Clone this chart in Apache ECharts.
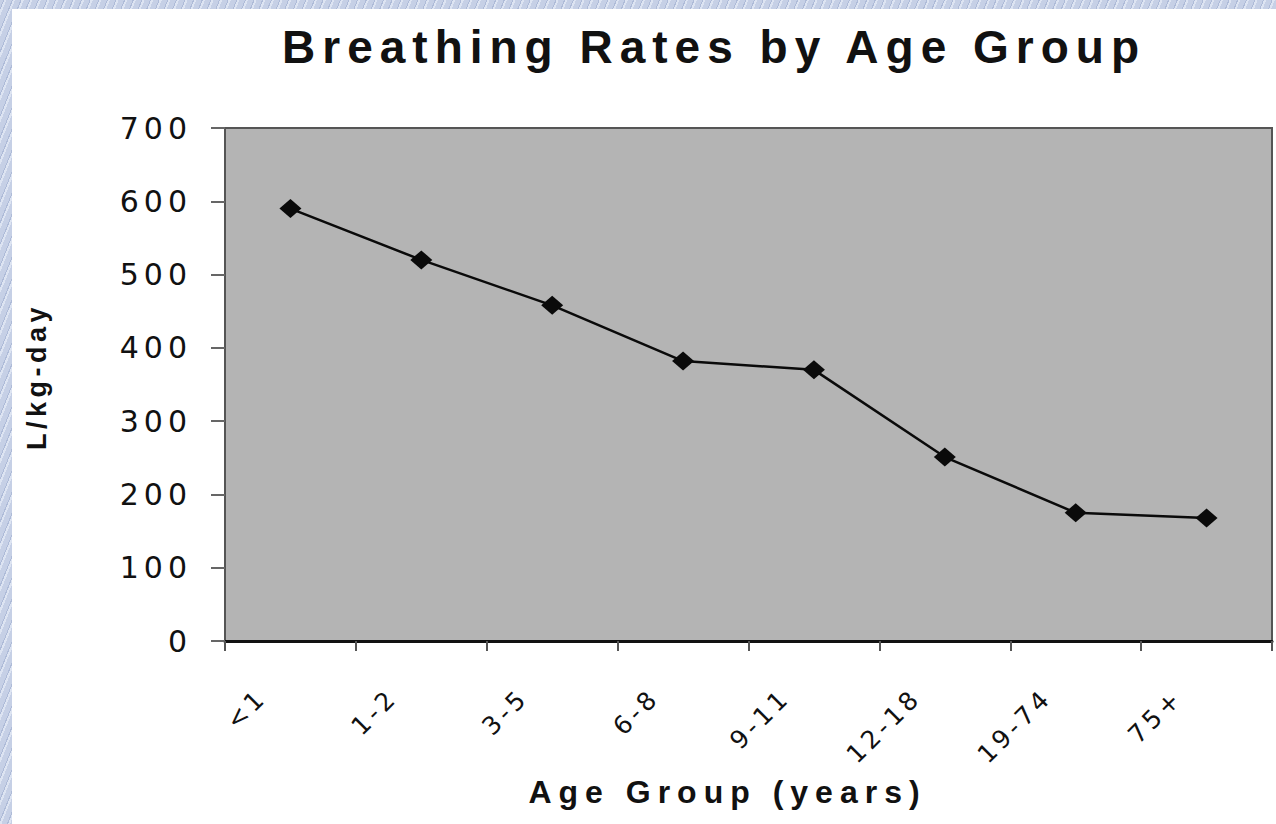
<!DOCTYPE html>
<html>
<head>
<meta charset="utf-8">
<title>Breathing Rates by Age Group</title>
<script src="https://cdn.jsdelivr.net/npm/echarts@6/dist/echarts.min.js"></script>
<style>
  html, body { margin: 0; padding: 0; width: 1276px; height: 824px; overflow: hidden; }
  body {
    position: relative;
    background-color: #c6d0e6;
    background-image: repeating-linear-gradient(112deg, #c6d0e6 0 3px, #aebbd8 3px 4px, #dde4f2 4px 6px, #c6d0e6 6px 8px);
  }
  #panel { position: absolute; left: 12px; top: 9px; right: 0; bottom: 0; background: #ffffff; }
  #chart { position: absolute; left: 0; top: 0; width: 1276px; height: 824px; }
  /* widely tracked lettering, as in the original slide (keyed on each text's font size) */
  #chart text { letter-spacing: 0.15em; }
  #chart text[style*="46px"] { letter-spacing: 7px; }    /* title */
  #chart text[style*="30px"] { letter-spacing: 5px; }    /* value labels */
  #chart text[style*="27px"] { letter-spacing: 4.5px; }  /* value axis name */
  #chart text[style*="32px"] { letter-spacing: 7px; }    /* category axis name */
  #chart text[style*="25px"] { letter-spacing: 4px; }    /* category labels */
</style>
</head>
<body>
<div id="panel"></div>
<div id="chart"></div>
<script>
// Age groups and breathing rates (L/kg-day)
const categories = ['<1', '1-2', '3-5', '6-8', '9-11', '12-18', '19-74', '75+'];
const rates = [590, 520, 458, 382, 370, 251, 175, 168];
const yTicks = [0, 100, 200, 300, 400, 500, 600, 700];

const chart = echarts.init(document.getElementById('chart'), null, { renderer: 'svg' });

const headFont = '"Liberation Sans", Arial, sans-serif';
const tickFont = '"DejaVu Sans", Verdana, sans-serif';

chart.setOption({
  animation: false,
  backgroundColor: 'transparent',
  title: {
    text: 'Breathing Rates by Age Group',
    left: 714,
    top: 24,
    padding: 0,
    textAlign: 'center',
    textVerticalAlign: 'top',
    textStyle: { fontFamily: headFont, fontWeight: 'bold', fontSize: 46, color: '#111' }
  },
  grid: {
    left: 225, top: 128, width: 1047, height: 513,
    show: true,
    backgroundColor: '#b4b4b4',
    borderColor: '#555',
    borderWidth: 2,
    outerBoundsMode: 'none'
  },
  xAxis: {
    type: 'category',
    data: categories,
    boundaryGap: true,
    name: 'Age Group (years)',
    nameLocation: 'middle',
    nameGap: 135,
    nameMoveOverlap: false,
    nameTextStyle: { fontFamily: headFont, fontWeight: 'bold', fontSize: 32, color: '#111', padding: [0, 42, 0, 0], verticalAlign: 'top' },
    axisLine: { show: true, lineStyle: { color: '#111', width: 3 } },
    axisTick: { show: true, inside: false, length: 10, alignWithLabel: false, lineStyle: { color: '#555', width: 2 } },
    axisLabel: {
      interval: 0,
      rotate: 45,
      margin: 24,
      padding: [0, 40, 20, 0],
      fontFamily: tickFont,
      fontSize: 25,
      color: '#111'
    },
    splitLine: { show: false }
  },
  yAxis: {
    type: 'value',
    min: yTicks[0],
    max: yTicks[yTicks.length - 1],
    interval: yTicks[1] - yTicks[0],
    name: 'L/kg-day',
    nameLocation: 'middle',
    nameGap: 175,
    nameMoveOverlap: false,
    nameTextStyle: { fontFamily: headFont, fontWeight: 'bold', fontSize: 27, color: '#111', padding: [0, 0, 0, 16] },
    axisLine: { show: true, lineStyle: { color: '#555', width: 2 } },
    axisTick: { show: true, inside: false, length: 14, lineStyle: { color: '#666', width: 2 } },
    axisLabel: { margin: 33, fontFamily: tickFont, fontSize: 30, color: '#111' },
    splitLine: { show: false }
  },
  series: [{
    type: 'line',
    data: rates,
    symbol: 'diamond',
    symbolSize: [22, 19],
    itemStyle: { color: '#0a0a0a' },
    lineStyle: { color: '#0a0a0a', width: 2.5 },
    label: { show: false }
  }]
});
</script>
</body>
</html>
